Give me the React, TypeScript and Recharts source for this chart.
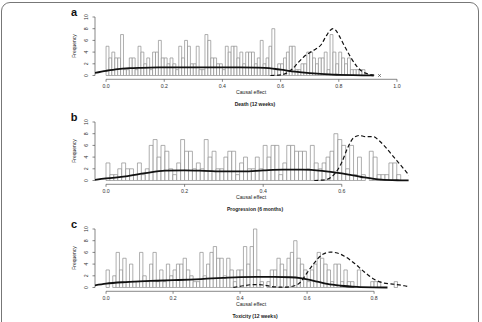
import React from "react";
import {
  ComposedChart,
  Bar,
  Line,
  Scatter,
  XAxis,
  YAxis,
  ReferenceLine,
} from "recharts";

type Pt = { x: number; y: number };

// histogram bin width on the causal-effect scale
const BIN = 0.01;
const yTicks = [0, 2, 4, 6, 8, 10];

// a: Death (12 weeks)
const deathCounts = [
  5, 3, 4, 3, 3, 7, 1, 1, 3, 3,
  1, 5, 4, 2, 3, 1, 4, 4, 6, 3,
  3, 2, 3, 2, 1, 5, 3, 6, 5, 2,
  2, 5, 1, 1, 7, 6, 3, 3, 2, 2,
  1, 5, 4, 5, 5, 3, 4, 2, 4, 4,
  4, 2, 3, 6, 2, 3, 5, 8, 1, 2,
  2, 3, 4, 5, 5, 1, 1, 2, 2, 4,
  4, 3, 2, 3, 3, 4, 1, 7, 4, 2,
  4, 3, 2, 3, 1, 1, 1, 1, 1, 0,
];
const deathSolid: Pt[] = [
  { x: -0.038, y: 0.45 }, { x: 0, y: 0.8 }, { x: 0.04, y: 1.1 }, { x: 0.08, y: 1.25 },
  { x: 0.12, y: 1.32 }, { x: 0.18, y: 1.38 }, { x: 0.25, y: 1.4 }, { x: 0.32, y: 1.4 },
  { x: 0.4, y: 1.4 }, { x: 0.46, y: 1.4 }, { x: 0.52, y: 1.35 }, { x: 0.56, y: 1.25 },
  { x: 0.6, y: 1.0 }, { x: 0.65, y: 0.65 }, { x: 0.7, y: 0.4 }, { x: 0.75, y: 0.22 },
  { x: 0.8, y: 0.12 }, { x: 0.85, y: 0.05 }, { x: 0.9, y: 0.01 }, { x: 0.92, y: 0 },
];
const deathDashed: Pt[] = [
  { x: 0.565, y: 0 }, { x: 0.6, y: 0.1 }, { x: 0.62, y: 0.4 }, { x: 0.64, y: 1.1 },
  { x: 0.66, y: 2.2 }, { x: 0.68, y: 3.2 }, { x: 0.7, y: 3.9 }, { x: 0.72, y: 4.5 },
  { x: 0.74, y: 5.3 }, { x: 0.755, y: 6.6 }, { x: 0.77, y: 7.7 }, { x: 0.78, y: 8.0 },
  { x: 0.79, y: 7.7 }, { x: 0.8, y: 6.9 }, { x: 0.82, y: 5.0 }, { x: 0.84, y: 3.2 },
  { x: 0.86, y: 1.7 }, { x: 0.88, y: 0.7 }, { x: 0.9, y: 0.25 }, { x: 0.92, y: 0.05 },
  { x: 0.93, y: 0 },
];
const deathMarks: Pt[] = [{ x: 0.94, y: 0 }];

// b: Progression (6 months)
const progCounts = [
  3, 1, 1, 2, 3, 2, 2, 1, 3, 1,
  2, 6, 7, 4, 6, 5, 2, 1, 3, 7,
  5, 5, 2, 3, 2, 7, 4, 5, 2, 2,
  4, 5, 5, 1, 3, 4, 2, 2, 4, 2,
  6, 4, 6, 6, 1, 3, 6, 6, 5, 5,
  5, 2, 6, 3, 2, 3, 4, 5, 8, 7,
  6, 2, 6, 1, 4, 1, 0, 5, 4, 1,
  1, 1, 3, 3, 1,
];
const progSolid: Pt[] = [
  { x: -0.028, y: 0.1 }, { x: 0, y: 0.35 }, { x: 0.05, y: 0.7 }, { x: 0.1, y: 1.25 },
  { x: 0.15, y: 1.68 }, { x: 0.2, y: 1.72 }, { x: 0.25, y: 1.65 }, { x: 0.3, y: 1.55 },
  { x: 0.35, y: 1.55 }, { x: 0.4, y: 1.72 }, { x: 0.45, y: 1.85 }, { x: 0.5, y: 1.85 },
  { x: 0.55, y: 1.65 }, { x: 0.6, y: 1.2 }, { x: 0.65, y: 0.6 }, { x: 0.7, y: 0.15 },
  { x: 0.75, y: 0.03 }, { x: 0.775, y: 0 },
];
const progDashed: Pt[] = [
  { x: 0.53, y: 0 }, { x: 0.56, y: 0.15 }, { x: 0.58, y: 1.0 }, { x: 0.6, y: 3.1 },
  { x: 0.615, y: 5.6 }, { x: 0.63, y: 7.3 }, { x: 0.645, y: 7.7 }, { x: 0.66, y: 7.5 },
  { x: 0.68, y: 7.5 }, { x: 0.695, y: 6.8 }, { x: 0.71, y: 5.8 }, { x: 0.725, y: 4.6 },
  { x: 0.74, y: 3.4 }, { x: 0.755, y: 2.2 }, { x: 0.77, y: 1.0 }, { x: 0.78, y: 0.2 },
];

// c: Toxicity (12 weeks)
const toxCounts = [
  3, 0, 2, 6, 3, 5, 1, 4, 1, 1,
  6, 2, 1, 4, 6, 1, 3, 1, 4, 2,
  3, 4, 4, 5, 3, 2, 1, 1, 6, 2,
  4, 6, 7, 5, 5, 2, 5, 3, 1, 3,
  3, 7, 4, 7, 10, 3, 1, 0, 1, 3,
  3, 5, 4, 3, 5, 6, 8, 5, 4, 3,
  1, 3, 4, 6, 5, 4, 3, 1, 4, 4,
  1, 3, 1, 1, 0, 3, 0, 0, 0, 1,
  1, 1, 0, 0, 0, 0, 1,
];
const toxSolid: Pt[] = [
  { x: -0.035, y: 0.35 }, { x: 0, y: 0.65 }, { x: 0.05, y: 0.9 }, { x: 0.1, y: 1.05 },
  { x: 0.15, y: 1.15 }, { x: 0.2, y: 1.25 }, { x: 0.25, y: 1.35 }, { x: 0.3, y: 1.5 },
  { x: 0.35, y: 1.65 }, { x: 0.4, y: 1.78 }, { x: 0.45, y: 1.82 }, { x: 0.5, y: 1.82 },
  { x: 0.55, y: 1.75 }, { x: 0.58, y: 1.6 }, { x: 0.6, y: 1.4 }, { x: 0.63, y: 1.0 },
  { x: 0.66, y: 0.6 }, { x: 0.7, y: 0.3 }, { x: 0.75, y: 0.1 }, { x: 0.8, y: 0.02 },
  { x: 0.84, y: 0 },
];
const toxDashed: Pt[] = [
  { x: 0.38, y: 0 }, { x: 0.41, y: 0.3 }, { x: 0.44, y: 0.5 }, { x: 0.47, y: 0.42 },
  { x: 0.5, y: 0.12 }, { x: 0.53, y: 0.05 }, { x: 0.56, y: 0.25 }, { x: 0.58, y: 0.9 },
  { x: 0.6, y: 2.5 }, { x: 0.62, y: 4.1 }, { x: 0.645, y: 5.6 }, { x: 0.67, y: 6.05 },
  { x: 0.69, y: 5.9 }, { x: 0.71, y: 5.4 }, { x: 0.74, y: 4.2 }, { x: 0.77, y: 2.7 },
  { x: 0.8, y: 1.4 }, { x: 0.83, y: 0.75 }, { x: 0.86, y: 0.55 }, { x: 0.89, y: 0.3 },
  { x: 0.905, y: 0.1 },
];

const FONT = "'Liberation Sans', Arial, Helvetica, sans-serif";
const W = 482;
const H = 95;
const PLOT_LEFT = 95;
const PLOT_RIGHT = 408.6;
const Y_DOMAIN: [number, number] = [-0.65, 10.4];
const AXIS = "#555";

const toBins = (counts: number[]) =>
  counts.map((y, i) => ({ x: +((i + 0.5) * BIN).toFixed(3), y }));

const SideTick = (props: any) => {
  const { x, y, payload } = props;
  return (
    <text
      x={x}
      y={y}
      transform={`rotate(-90 ${x} ${y})`}
      textAnchor="middle"
      fontSize={5.2}
      fontFamily={FONT}
      fill="#333"
    >
      {payload.value}
    </text>
  );
};

const Cross = (props: any) => {
  const { cx, cy } = props;
  const r = 1.4;
  return (
    <path
      d={`M${cx - r},${cy - r}L${cx + r},${cy + r}M${cx - r},${cy + r}L${cx + r},${cy - r}`}
      stroke="#333"
      strokeWidth={0.6}
    />
  );
};

type PanelProps = {
  top: number;
  letter: string;
  title: string;
  counts: number[];
  solid: Pt[];
  dashed: Pt[];
  marks?: Pt[];
  xDomain: [number, number];
  xTicks: number[];
};

const textStyle: React.CSSProperties = {
  position: "absolute",
  transform: "translate(-50%, -50%)",
  whiteSpace: "nowrap",
  lineHeight: 1,
  fontFamily: FONT,
  color: "#222",
};

const Panel = ({ top, letter, title, counts, solid, dashed, marks, xDomain, xTicks }: PanelProps) => {
  const bins = toBins(counts);
  const barPx = ((BIN * (PLOT_RIGHT - PLOT_LEFT)) / (xDomain[1] - xDomain[0])) * 0.99;
  const axisEnd = xTicks[xTicks.length - 1];
  return (
    <div style={{ position: "absolute", left: 0, top, width: W, height: H }}>
      <ComposedChart
        width={W}
        height={H}
        data={bins}
        margin={{ top: 14.66, right: W - PLOT_RIGHT, bottom: 1.7, left: PLOT_LEFT - 30 }}
      >
        {/* separate hidden axis so the bars keep their own band size */}
        <XAxis
          xAxisId="bins"
          orientation="top"
          height={0}
          type="number"
          dataKey="x"
          domain={xDomain}
          allowDataOverflow
          hide
        />
        <XAxis
          xAxisId="main"
          type="number"
          dataKey="x"
          domain={xDomain}
          ticks={xTicks}
          interval={0}
          allowDataOverflow
          axisLine={false}
          tickLine={{ stroke: AXIS, strokeWidth: 0.7 }}
          tickSize={2.5}
          tickMargin={3}
          height={14}
          tick={{ fontSize: 5.2, fill: "#333", fontFamily: FONT }}
          tickFormatter={(v: number) => v.toFixed(1)}
        />
        <YAxis
          type="number"
          dataKey="y"
          domain={Y_DOMAIN}
          ticks={yTicks}
          interval={0}
          allowDataOverflow
          width={30}
          axisLine={false}
          tickLine={{ stroke: AXIS, strokeWidth: 0.7 }}
          tickSize={2.5}
          tickMargin={4}
          tick={<SideTick />}
        />
        <ReferenceLine
          xAxisId="main"
          segment={[{ x: 0, y: Y_DOMAIN[0] }, { x: axisEnd, y: Y_DOMAIN[0] }]}
          stroke={AXIS}
          strokeWidth={0.7}
          ifOverflow="visible"
        />
        <ReferenceLine
          xAxisId="main"
          segment={[{ x: xDomain[0], y: 0 }, { x: xDomain[0], y: 10 }]}
          stroke={AXIS}
          strokeWidth={0.7}
          ifOverflow="visible"
        />
        <Bar
          xAxisId="bins"
          dataKey="y"
          barSize={barPx}
          fill="#fff"
          stroke="#8c8c8c"
          strokeWidth={0.7}
          isAnimationActive={false}
        />
        <Line
          xAxisId="main"
          data={solid}
          dataKey="y"
          type="monotone"
          stroke="#111"
          strokeWidth={1.8}
          dot={false}
          isAnimationActive={false}
        />
        <Line
          xAxisId="main"
          data={dashed}
          dataKey="y"
          type="monotone"
          stroke="#111"
          strokeWidth={1.2}
          strokeDasharray="4 2.5"
          dot={false}
          isAnimationActive={false}
        />
        {marks && (
          <Scatter
            xAxisId="main"
            data={marks}
            dataKey="y"
            shape={<Cross />}
            isAnimationActive={false}
          />
        )}
      </ComposedChart>
      <span style={{ ...textStyle, left: 74, top: 12, fontSize: 11, fontWeight: 700, color: "#111" }}>
        {letter}
      </span>
      <span style={{ ...textStyle, left: 74, top: 46.3, fontSize: 5, transform: "translate(-50%, -50%) rotate(-90deg)" }}>
        Frequency
      </span>
      <span style={{ ...textStyle, left: 251, top: 93, fontSize: 5.2 }}>Causal effect</span>
      <span style={{ ...textStyle, left: 255, top: 104, fontSize: 5, fontWeight: 700 }}>{title}</span>
    </div>
  );
};

export default function App() {
  return (
    <div
      style={{
        position: "absolute",
        left: 0,
        top: 0,
        width: 482,
        height: 322,
        overflow: "hidden",
        background: "#fff",
      }}
    >
      <div
        style={{
          position: "absolute",
          left: 1,
          top: 2,
          width: 478,
          height: 340,
          boxSizing: "border-box",
          border: "1.5px solid #777",
          borderRadius: 9,
        }}
      />
      <Panel
        top={0}
        letter="a"
        title="Death (12 weeks)"
        counts={deathCounts}
        solid={deathSolid}
        dashed={deathDashed}
        marks={deathMarks}
        xDomain={[-0.038, 1.04]}
        xTicks={[0, 0.2, 0.4, 0.6, 0.8, 1.0]}
      />
      <Panel
        top={105.2}
        letter="b"
        title="Progression (6 months)"
        counts={progCounts}
        solid={progSolid}
        dashed={progDashed}
        xDomain={[-0.028, 0.77]}
        xTicks={[0, 0.2, 0.4, 0.6]}
      />
      <Panel
        top={212.2}
        letter="c"
        title="Toxicity (12 weeks)"
        counts={toxCounts}
        solid={toxSolid}
        dashed={toxDashed}
        xDomain={[-0.033, 0.903]}
        xTicks={[0, 0.2, 0.4, 0.6, 0.8]}
      />
    </div>
  );
}
